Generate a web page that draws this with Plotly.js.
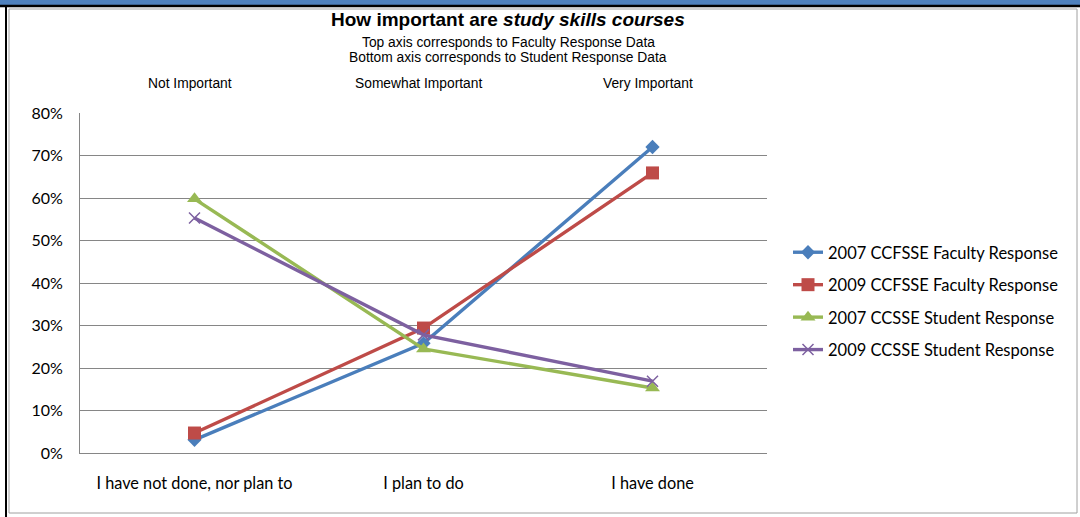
<!DOCTYPE html>
<html><head><meta charset="utf-8">
<script src="https://cdn.plot.ly/plotly-3.0.1.min.js"></script>
<style>html,body{margin:0;padding:0;background:#fff}#chart{width:1080px;height:517px}</style>
</head><body><div id="chart"></div>
<script>
const categories = ["I have not done, nor plan to", "I plan to do", "I have done"];
const topLabels = ["Not Important", "Somewhat Important", "Very Important"];
const seriesNames = ["2007 CCFSSE Faculty Response", "2009 CCFSSE Faculty Response", "2007 CCSSE Student Response", "2009 CCSSE Student Response"];
const fac2007 = [0.031, 0.258, 0.72];
const fac2009 = [0.047, 0.294, 0.659];
const stu2007 = [0.598, 0.245, 0.153];
const stu2009 = [0.553, 0.278, 0.169];
const seriesValues = [fac2007, fac2009, stu2007, stu2009];

const colors = ["#4a7ebb", "#be4b48", "#98b954", "#7d60a0"];
const symbols = ["diamond", "square", "triangle-up", "x-thin-open"];
const sizes = [11, 13, 13, 11];

const L = 80, R = 767, T = 113, B = 453, W = 1080, H = 517;
const px = x => (x - L) / (R - L);
const py = y => (B - y) / (B - T);

const traces = seriesValues.map((v, i) => ({
  x: categories, y: v, type: 'scatter', mode: 'lines+markers',
  name: seriesNames[i], legendgroup: 'g' + i,
  line: {color: colors[i], width: 3.4},
  marker: {symbol: symbols[i], size: sizes[i], color: colors[i], line: {color: colors[i], width: i === 3 ? 1.5 : 0}}
}));

const af = 'Liberation Sans, Arial, sans-serif';
const annotations = [
  {text: "<b>How important are <i>study skills courses</i></b>", x: px(508), y: py(19), xref: 'paper', yref: 'paper', xanchor: 'center', yanchor: 'middle', showarrow: false, font: {family: af, size: 19, color: '#000'}},
  {text: "Top axis corresponds to Faculty Response Data", x: px(508), y: py(42), xref: 'paper', yref: 'paper', xanchor: 'center', yanchor: 'middle', showarrow: false, font: {family: af, size: 13.8, color: '#000'}},
  {text: "Bottom axis corresponds to Student Response Data", x: px(508), y: py(58), xref: 'paper', yref: 'paper', xanchor: 'center', yanchor: 'middle', showarrow: false, font: {family: af, size: 13.8, color: '#000'}}
];
topLabels.forEach((t, i) => annotations.push({text: t, x: categories[i], xref: 'x', xshift: -5, y: py(83), yref: 'paper', xanchor: 'center', yanchor: 'middle', showarrow: false, font: {family: af, size: 13.8, color: '#000'}}));

const shapes = [
  {type: 'rect', xref: 'paper', yref: 'paper', x0: px(0), x1: px(W), y0: py(0), y1: py(5), fillcolor: '#4f81bd', line: {width: 0}, layer: 'below'},
  {type: 'line', xref: 'paper', yref: 'paper', x0: px(0), x1: px(W), y0: py(6), y1: py(6), line: {color: '#000', width: 2.5}},
  {type: 'line', xref: 'paper', yref: 'paper', x0: px(6), x1: px(6), y0: py(5), y1: py(H), line: {color: '#000', width: 2}},
  {type: 'rect', xref: 'paper', yref: 'paper', x0: px(9), x1: px(1077), y0: py(9), y1: py(513), line: {color: '#a0a0a0', width: 1}, fillcolor: 'rgba(0,0,0,0)'}
];

const cf = 'Lato, Carlito, sans-serif';
const layout = {
  width: W, height: H,
  margin: {l: L, r: W - R, t: T, b: H - B, pad: 0},
  paper_bgcolor: '#fff', plot_bgcolor: '#fff',
  showlegend: true,
  legend: {x: px(788), xanchor: 'left', y: py(235), yanchor: 'top', traceorder: 'grouped', tracegroupgap: 8,
           font: {family: cf, size: 16.5, color: '#000'}, bgcolor: 'rgba(0,0,0,0)'},
  xaxis: {type: 'category', range: [-0.5, 2.5], showgrid: false, showline: true, linecolor: '#868686', linewidth: 1,
          ticks: '', ticklabelstandoff: 15, tickfont: {family: cf, size: 16.3, color: '#000'}, fixedrange: true},
  yaxis: {range: [0, 0.8], dtick: 0.1, tickformat: '.0%', showgrid: true, gridcolor: '#868686', gridwidth: 1,
          showline: true, linecolor: '#868686', linewidth: 1, zeroline: false, ticks: '', ticklabelstandoff: 13,
          tickfont: {family: cf, size: 16, color: '#000'}, fixedrange: true},
  annotations: annotations,
  shapes: shapes
};

Plotly.newPlot('chart', traces, layout, {displayModeBar: false, staticPlot: true});
</script></body></html>
